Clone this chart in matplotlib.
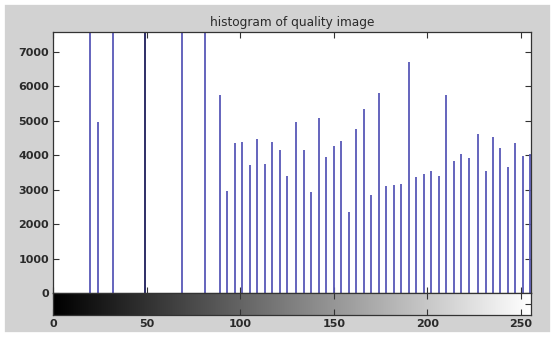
import numpy as np
import matplotlib
matplotlib.use('Agg')
import matplotlib.pyplot as plt
from matplotlib.patches import Rectangle

# gray levels that hold pixels, and their counts (bars above 7580 are cut off in the original)
gray_levels = [20, 24, 32, 49, 69, 81, 89, 93, 97, 101, 105, 109, 113, 117, 121, 125,
               130, 134, 138, 142, 146, 150, 154, 158, 162, 166, 170, 174, 178, 182,
               186, 190, 194, 198, 202, 206, 210, 214, 218, 222, 227, 231, 235, 239,
               243, 247, 251, 255]
counts = [9500, 4970, 9800, 12000, 9000, 9200, 5744, 2959, 4360, 4380, 3704, 4467, 3733,
          4380, 4158, 3385, 4980, 4139, 2940, 5096, 3945, 4255, 4400, 2340, 4758, 5333,
          2833, 5822, 3104, 3133, 3162, 6701, 3375, 3443, 3530, 3394, 5744, 3829, 4041,
          3916, 4632, 3539, 4535, 4216, 3655, 4342, 3965, 4030]
x_ticks = [0, 50, 100, 150, 200, 250]
y_ticks = [0, 1000, 2000, 3000, 4000, 5000, 6000, 7000]
title = 'histogram of quality image'

W, H = 555, 337
fig = plt.figure(figsize=(W / 100, H / 100), dpi=100, facecolor='#d2d2d2')
# thin white border round the grey figure, as in the screenshot
fig.patches.append(Rectangle((0, 0), 1, 1, transform=fig.transFigure, fill=False,
                             edgecolor='white', linewidth=7, zorder=10))

left, right = 53 / W, 531 / W
ax = fig.add_axes([left, 1 - 293 / H, right - left, (293 - 32) / H])
cb = fig.add_axes([left, 1 - 315 / H, right - left, (315 - 293) / H])

xmax = 255.3
blue = '#5858b8'
colors = ['#1c1c5a' if g == 49 else blue for g in gray_levels]
ax.vlines(gray_levels, 0, counts, colors=colors, linewidth=1.3)
ax.set_xlim(0, xmax)
ax.set_ylim(0, 7580)
ax.set_xticks(x_ticks)
ax.set_yticks(y_ticks)
ax.tick_params(direction='in', length=4, top=True, right=True, labelbottom=False,
               color='#333333', labelsize=8, labelcolor='#2a2a2a', pad=3)
for t in ax.get_yticklabels():
    t.set_fontweight('bold')
ax.set_title(title, fontsize=8.7, color='#2a2a2a', pad=4)

grad = np.linspace(0, 1, 256).reshape(1, -1)
cb.imshow(grad, cmap='gray', aspect='auto', extent=[0, xmax, 0, 1], vmin=0, vmax=1)
cb.set_xlim(0, xmax)
cb.set_ylim(0, 1)
cb.set_xticks(x_ticks)
cb.set_yticks([0.5])
cb.tick_params(direction='in', length=4, top=True, left=False, right=True,
               labelleft=False, color='#333333', labelsize=8, labelcolor='#2a2a2a', pad=3)
for t in cb.get_xticklabels():
    t.set_fontweight('bold')

for a in (ax, cb):
    for s in a.spines.values():
        s.set_color('#333333')
        s.set_linewidth(0.9)

fig.savefig('out.png', dpi=100, facecolor=fig.get_facecolor())
